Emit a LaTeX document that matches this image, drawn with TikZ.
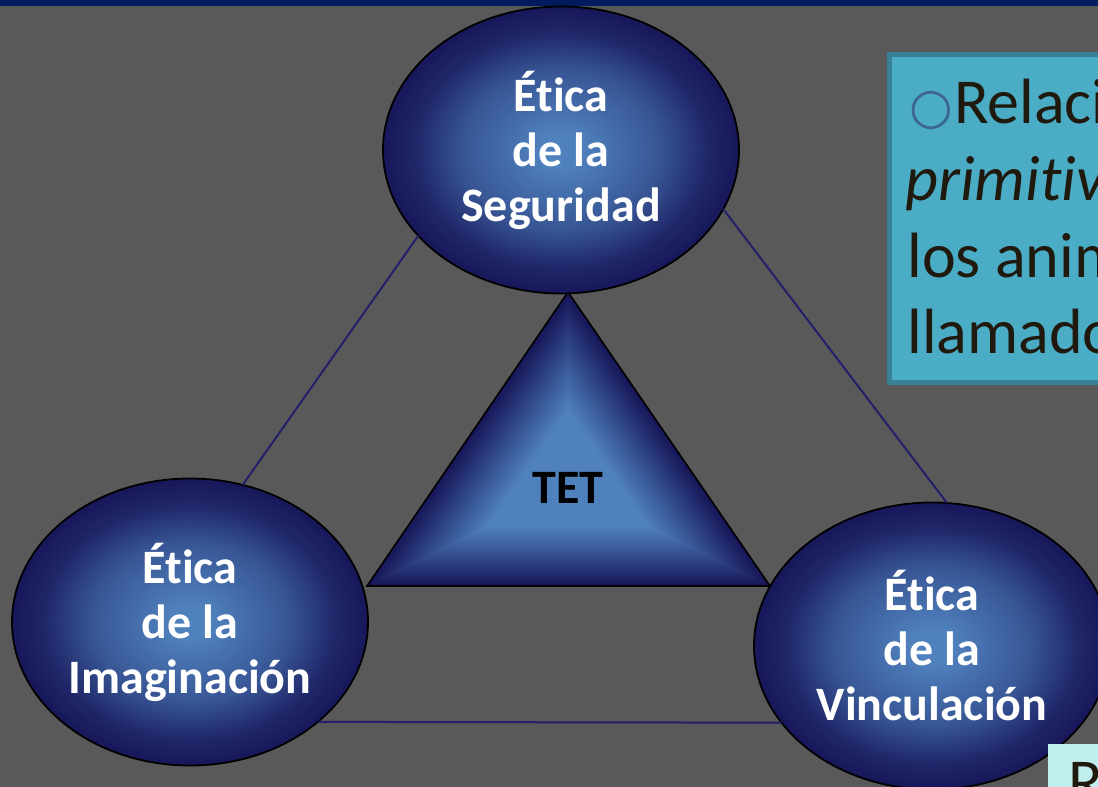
\documentclass[tikz,border=0pt]{standalone}
\usepackage{xcolor}
\usepackage{fontspec}
\setmainfont{Carlito}[Ligatures=NoCommon]
\newfontfamily\symbfont{DejaVu Sans}
\usepackage{tikz}
\usetikzlibrary{calc,positioning,shapes.geometric}

\definecolor{slidegray}{HTML}{595959}
\definecolor{bandnavy}{HTML}{001C5C}
\definecolor{balllight}{HTML}{4F81BD}
\definecolor{balldark}{HTML}{17175A}
\colorlet{ballmid}{balllight!58!balldark}
\colorlet{ballrim}{balllight!15!balldark}
\definecolor{linknavy}{HTML}{231F68}
\definecolor{notefill}{HTML}{4BACC6}
\definecolor{noteedge}{HTML}{398094}
\definecolor{notetext}{HTML}{201A0E}
\definecolor{bulletblue}{HTML}{3D6590}
\definecolor{refcyan}{HTML}{C0EEEE}

% the path box is mapped on the inner 25bp of the shading
\pgfdeclareradialshading{ethicball}{\pgfpoint{0bp}{0bp}}{color(0bp)=(balllight); color(3bp)=(balllight); color(14bp)=(ballmid); color(20.5bp)=(ballrim); color(25bp)=(balldark); color(50bp)=(balldark)}

\tikzset{
    ethic/.style={ellipse, draw=black, line width=0.9pt, shading=ethicball,
        minimum width=178pt, minimum height=143.5pt, inner sep=0pt, outer sep=0pt,
        align=center, text=white, font=\bfseries\fontsize{24}{27.5}\selectfont},
    link/.style={linknavy, line width=1pt},
    note/.style={text=notetext, font=\fontsize{32}{38.5}\selectfont, inner sep=0pt, anchor=base west}
}

\begin{document}
\begin{tikzpicture}[x=0.5pt, y=-0.5pt]
        \path[use as bounding box] (0,0) rectangle (1098,787);
        \clip (0,0) rectangle (1098,787);

        \fill[slidegray] (0,0) rectangle (1098,787);
        \fill[bandnavy] (0,0) rectangle (1098,6);

        % TET triangle
        \coordinate (apex) at (568,292);
        \coordinate (baseL) at (367,586);
        \coordinate (baseR) at (770,586);
        \coordinate (tetc) at (568,488);
        \foreach \s [evaluate=\s as \p using {min(100,(1-\s)*170)}] in {1,0.98,...,0.02}
            \fill[balllight!\p!balldark] ($(tetc)!\s!(apex)$) -- ($(tetc)!\s!(baseL)$) -- ($(tetc)!\s!(baseR)$) -- cycle;
        \draw[black, line width=0.8pt] (apex) -- (baseL) -- (baseR) -- cycle;
        \node[inner sep=0pt, font=\bfseries\fontsize{24}{28}\selectfont] (tet) at (tetc) {TET};

        \node[ethic] (seguridad) at (561,150) {Ética\\de la\\Seguridad};
        \node[ethic] (imaginacion) at (190,622) {Ética\\de la\\Imaginación};
        \node[ethic] (vinculacion) at (932,646) {Ética\\de la\\Vinculación};

        \draw[link] (seguridad.211) -- (imaginacion.69);
        \draw[link] (seguridad.340) -- (vinculacion.84);
        \draw[link] (imaginacion.322) -- (vinculacion.207);

        % text box
        \node[draw=noteedge, fill=notefill, line width=2.5pt, anchor=north west, inner sep=0pt, outer sep=0pt,
              minimum width=120pt, minimum height=164pt] (notebox) at (889.5,54.5) {};
        \node[note] (line1) at (909,123) {{\symbfont\fontsize{25}{25}\selectfont\color{bulletblue}○}\hspace{0.5pt}Relaci};
        \node[note] (line2) at (905,200) {\itshape primitiv};
        \node[note] (line3) at (907,277) {los anim};
        \node[note] (line4) at (907,353) {llamado};

        \fill[refcyan] (1048,744) rectangle (1110,800);
        \node[note] (refmark) at (1068,803) {R};
\end{tikzpicture}
\end{document}
